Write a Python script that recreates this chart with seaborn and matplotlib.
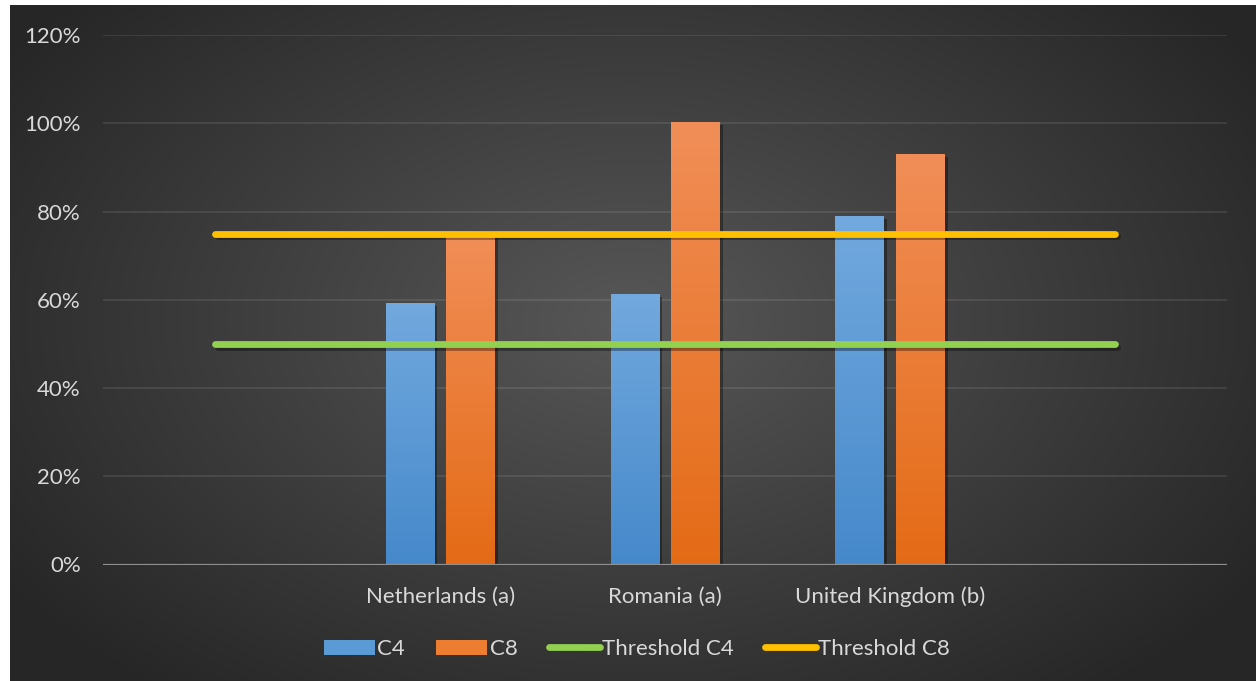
import numpy as np
import pandas as pd
import matplotlib
matplotlib.use("Agg")
import matplotlib.pyplot as plt
import matplotlib.patheffects as pe
from matplotlib.lines import Line2D
from matplotlib.patches import Patch
import seaborn as sns

# ---- data ----
categories = ["Netherlands (a)", "Romania (a)", "United Kingdom (b)"]
c4_values = [0.59, 0.61, 0.788]
c8_values = [0.75, 1.00, 0.928]
# Excel category axis has an empty category on each side
axis_categories = [" ", *categories, "  "]
threshold_c4 = [0.50, 0.50, 0.50, 0.50, 0.50]
threshold_c8 = [0.75, 0.75, 0.75, 0.75, 0.75]
y_ticks = [0.0, 0.2, 0.4, 0.6, 0.8, 1.0, 1.2]
y_tick_labels = ["0%", "20%", "40%", "60%", "80%", "100%", "120%"]

series_names = ["C4", "C8"]
colors = {"C4": "#5b9bd5", "C8": "#ed7d31"}
grad = {"C4": ("#72a9de", "#4689cb"), "C8": ("#f18e58", "#e46b16")}
line_colors = {"Threshold C4": "#92d050", "Threshold C8": "#ffc000"}
text_color = "#d9d9d9"

sns.set_theme(style="dark")
plt.rcParams["font.family"] = ["Lato", "DejaVu Sans"]

W, H, DPI = 1256, 681, 100
fig = plt.figure(figsize=(W / DPI, H / DPI), dpi=DPI)
fig.patch.set_facecolor("white")

# ---- radial gradient background (chart area) ----
bg_ax = fig.add_axes([10 / W, 0, (W - 10) / W, (H - 5) / H], zorder=-5)
bx0, by0, bw, bh = 10, 5, W - 10, H - 5
yy, xx = np.mgrid[0:bh, 0:bw]
cx, cy, rx, ry = 630 - bx0, 320 - by0, 760, 480
d = np.sqrt(((xx - cx) / rx) ** 2 + ((yy - cy) / ry) ** 2)
d = np.clip(d, 0, 1)
c_center, c_edge = 0x57 / 255, 0x26 / 255
val = c_center + (c_edge - c_center) * d
bg_ax.imshow(np.dstack([val, val, val]), aspect="auto", interpolation="bilinear")
bg_ax.set_axis_off()

# ---- main axes ----
left, right, top, bottom = 103, 1227, 35, 564.5
ax = fig.add_axes([left / W, (H - bottom) / H, (right - left) / W, (bottom - top) / H])
ax.set_facecolor("none")

df = pd.DataFrame({
    "category": categories * 2,
    "series": ["C4"] * len(categories) + ["C8"] * len(categories),
    "value": c4_values + c8_values,
})

sns.barplot(data=df, x="category", y="value", hue="series", order=axis_categories,
            hue_order=series_names, palette=colors, width=0.539, gap=0.206,
            errorbar=None, ax=ax, zorder=3, linewidth=0, saturation=1)

ax.set_xlim(-0.5, len(axis_categories) - 0.5)
ax.set_ylim(0, 1.2)

# gradient fill + shadow on the bars
shadow = [pe.SimplePatchShadow(offset=(2.5, -1.5), shadow_rgbFace="black", alpha=0.35)]
for bar in list(ax.patches):
    h = bar.get_height()
    if not np.isfinite(h) or h <= 0:
        continue
    fc = matplotlib.colors.to_hex(bar.get_facecolor())
    name = "C4" if fc.lower() == colors["C4"] else "C8"
    top_c = np.array(matplotlib.colors.to_rgb(grad[name][0]))
    bot_c = np.array(matplotlib.colors.to_rgb(grad[name][1]))
    t = np.linspace(0, 1, 256)[:, None]
    img = (top_c[None, :] * (1 - t) + bot_c[None, :] * t)[:, None, :]
    x0 = bar.get_x()
    bar.set_path_effects(shadow)
    ax.imshow(img, extent=[x0, x0 + bar.get_width(), 0, h], aspect="auto",
              zorder=3.5, interpolation="bilinear", origin="upper")
ax.set_xlim(-0.5, len(axis_categories) - 0.5)
ax.set_ylim(0, 1.2)

# threshold lines spanning all axis categories
xpos = np.arange(len(axis_categories))
line_shadow = [pe.SimpleLineShadow(offset=(2, -2), shadow_color="black", alpha=0.35),
               pe.Normal()]
for name, vals in [("Threshold C4", threshold_c4), ("Threshold C8", threshold_c8)]:
    sns.lineplot(x=xpos, y=vals, ax=ax, color=line_colors[name], linewidth=4.9,
                 solid_capstyle="round", zorder=5, label=name, legend=False,
                 path_effects=line_shadow)

# grid + axes
for yt in y_ticks[1:]:
    ax.axhline(yt, color="white", alpha=0.09, linewidth=1.5, zorder=1)
ax.axhline(0, color="#8f8f8f", linewidth=1.6, zorder=6)
for s in ax.spines.values():
    s.set_visible(False)
ax.grid(False)

ax.set_yticks(y_ticks)
ax.set_yticklabels(y_tick_labels)
ax.set_xticks(xpos)
ax.set_xticklabels(axis_categories)
ax.tick_params(axis="y", length=0, pad=16, labelsize=16, labelcolor=text_color)
ax.tick_params(axis="x", length=0, pad=16, labelsize=16, labelcolor=text_color)
ax.set_xlabel("")
ax.set_ylabel("")
if ax.get_legend() is not None:
    ax.get_legend().remove()

handles = [
    Patch(facecolor=colors["C4"], edgecolor="none", label="C4"),
    Patch(facecolor=colors["C8"], edgecolor="none", label="C8"),
    Line2D([0], [0], color=line_colors["Threshold C4"], linewidth=4.9,
           solid_capstyle="round", label="Threshold C4"),
    Line2D([0], [0], color=line_colors["Threshold C8"], linewidth=4.9,
           solid_capstyle="round", label="Threshold C8"),
]
leg = fig.legend(handles=handles, loc="center", bbox_to_anchor=(637 / W, 1 - 649 / H),
                 ncol=4, frameon=False, fontsize=16, handlelength=2.3,
                 handleheight=0.65, handletextpad=0.1, columnspacing=1.4,
                 labelcolor=text_color)

fig.savefig("out.png", dpi=DPI, facecolor=fig.get_facecolor())
